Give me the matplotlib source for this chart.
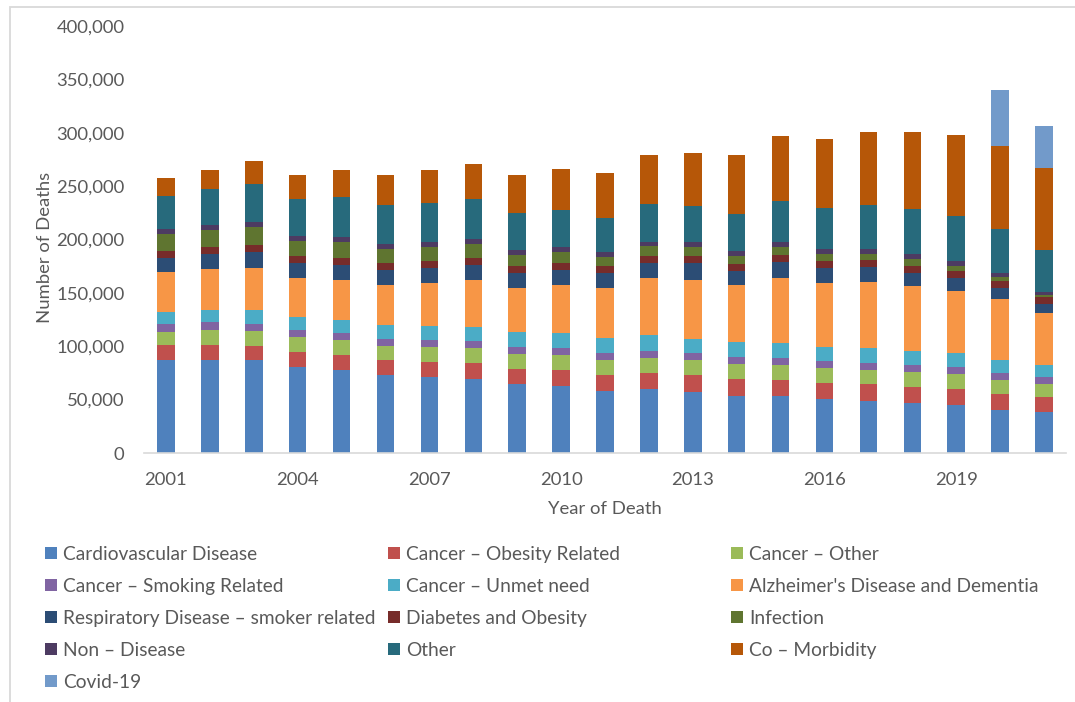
import matplotlib
matplotlib.use("Agg")
import matplotlib.pyplot as plt
from matplotlib.patches import Patch, Rectangle
from matplotlib.ticker import FuncFormatter
import numpy as np

plt.rcParams['font.family'] = ['Lato', 'DejaVu Sans']

years = list(range(2001, 2022))

categories = [
    "Cardiovascular Disease",
    "Cancer \u2013 Obesity Related",
    "Cancer \u2013 Other",
    "Cancer \u2013 Smoking Related",
    "Cancer \u2013 Unmet need",
    "Alzheimer's Disease and Dementia",
    "Respiratory Disease \u2013 smoker related",
    "Diabetes and Obesity",
    "Infection",
    "Non \u2013 Disease",
    "Other",
    "Co \u2013 Morbidity",
    "Covid-19",
]

colors = ["#4F81BD", "#C0504D", "#9BBB59", "#8064A2", "#4BACC6", "#F79646",
          "#2C4D75", "#772C2A", "#5F7530", "#4D3B62", "#276A7C", "#B65708",
          "#729ACA"]

cardiovascular = [86800, 87400, 86800, 80600, 77800, 73100, 70900, 69600, 64900, 63000, 58100,
                  59700, 57400, 53700, 53700, 50300, 49000, 46600, 45000, 40300, 38700]
cancer_obesity = [14100, 13800, 13700, 14000, 14000, 14300, 14300, 14400, 13800, 15000, 15300,
                  15200, 15400, 15600, 15000, 15300, 15400, 15200, 15200, 14700, 14000]
cancer_other = [12700, 14000, 13800, 13800, 14100, 13100, 14100, 14100, 14000, 13800, 14000,
                14400, 14000, 14100, 14000, 14000, 13600, 13800, 13500, 13100, 12200]
cancer_smoking = [7500, 7200, 6800, 6800, 6500, 6300, 6600, 6500, 6600, 6600, 6600,
                  6500, 6600, 6300, 6600, 6600, 6600, 6600, 6600, 6600, 6000]
cancer_unmet = [11300, 11300, 12600, 12200, 12200, 13100, 13400, 13700, 14100, 14000, 14000,
                14700, 13400, 14300, 13700, 13100, 14000, 13100, 13400, 12100, 11500]
alzheimers = [37400, 38700, 39300, 36500, 37700, 37500, 40000, 43500, 41200, 44700, 46600,
              53200, 55500, 53100, 60900, 60200, 61900, 61100, 57800, 57800, 48500]
respiratory = [13200, 14000, 15300, 13800, 13800, 13700, 14300, 14300, 13700, 14000, 13700,
               14300, 15400, 13700, 15000, 14100, 13700, 12500, 12700, 10000, 8700]
diabetes = [6500, 6600, 6600, 6600, 6900, 6600, 6500, 6900, 6900, 6600, 6900,
            6800, 7100, 6500, 6600, 6500, 6600, 6600, 6300, 6500, 6300]
infection = [15700, 16200, 16800, 14300, 14900, 13700, 13200, 13100, 10300, 10600, 8400,
             8800, 7900, 7200, 7800, 6600, 5900, 6200, 4700, 3500, 2100]
non_disease = [4600, 4100, 5000, 4700, 4700, 4700, 4600, 4700, 4700, 4700, 4700,
               4300, 4700, 4500, 4400, 4400, 4400, 4700, 4900, 4300, 3100]
other = [31200, 34000, 35600, 34600, 36900, 36200, 36300, 36900, 34600, 34600, 32100,
         35100, 34000, 34900, 38400, 38400, 40900, 41900, 42200, 40900, 39100]
co_morbidity = [16300, 17800, 21000, 22800, 25300, 27800, 30900, 32800, 35900, 38200, 41600,
                46200, 49600, 55300, 60900, 64700, 68700, 72400, 75300, 77800, 76500]
covid = [0, 0, 0, 0, 0, 0, 0, 0, 0, 0, 0,
         0, 0, 0, 0, 0, 0, 0, 0, 52700, 39300]

series = [cardiovascular, cancer_obesity, cancer_other, cancer_smoking, cancer_unmet,
          alzheimers, respiratory, diabetes, infection, non_disease, other,
          co_morbidity, covid]

TEXT = "#595959"
W, H = 1075, 702

fig = plt.figure(figsize=(W / 100, H / 100), dpi=100)
fig.patch.set_facecolor("white")

# chart-area border
fig.add_artist(Rectangle((10 / W, -0.05), 1.2, 1 - 6.5 / H + 0.05,
                         transform=fig.transFigure, fill=False,
                         edgecolor="#D9D9D9", linewidth=1.3))

ax = fig.add_axes([144 / W, 1 - 453 / H, 922 / W, 427 / H])

x = np.arange(len(years))
bottom = np.zeros(len(years))
for vals, col in zip(series, colors):
    v = np.array(vals, dtype=float)
    ax.bar(x, v, width=0.4, bottom=bottom, color=col, linewidth=0)
    bottom += v

ax.set_xlim(-0.5, len(years) - 0.5)
ax.set_ylim(0, 400000)
ax.set_yticks(np.arange(0, 400001, 50000))
ax.yaxis.set_major_formatter(FuncFormatter(lambda v, p: f"{int(v):,}"))
tick_idx = list(range(0, len(years), 3))
ax.set_xticks(tick_idx)
ax.set_xticklabels([str(years[i]) for i in tick_idx])

for s in ["top", "right", "left"]:
    ax.spines[s].set_visible(False)
ax.spines["bottom"].set_color("#D9D9D9")
ax.spines["bottom"].set_linewidth(1.2)
ax.tick_params(axis="both", length=0, labelsize=13.3, colors=TEXT)
ax.tick_params(axis="y", pad=14)
ax.tick_params(axis="x", pad=14)

ax.set_ylabel("Number of Deaths", fontsize=13.3, color=TEXT)
ax.set_xlabel("Year of Death", fontsize=13.3, color=TEXT)
ax.yaxis.set_label_coords((45 - 144) / 922, (453 - 247) / 427)
ax.xaxis.set_label_coords(0.5, -(509 - 453) / 427)
ax.xaxis.label.set_verticalalignment("center")
ax.yaxis.label.set_verticalalignment("center")

# legend laid out in three columns, filled row by row
col_x = [45, 388, 731]
for c in range(3):
    idx = list(range(c, len(categories), 3))
    handles = [Patch(facecolor=colors[i], edgecolor="none") for i in idx]
    labels = [categories[i] for i in idx]
    leg = fig.legend(handles, labels, loc="upper left",
                     bbox_to_anchor=(col_x[c] / W, 1 - 546 / H),
                     frameon=False, fontsize=13.8, labelcolor=TEXT,
                     handlelength=0.6, handleheight=0.6, handletextpad=0.33,
                     labelspacing=0.78, borderpad=0, borderaxespad=0)

fig.savefig("out.png", dpi=100, facecolor="white")
